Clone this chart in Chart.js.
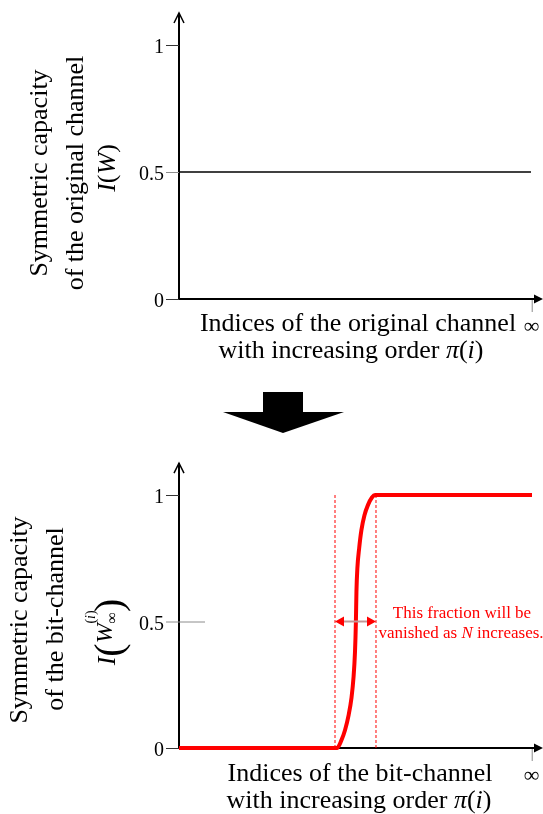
<!DOCTYPE html>
<html>
<head>
<meta charset="utf-8">
<script src="https://cdn.jsdelivr.net/npm/chart.js@4.4.0/dist/chart.umd.min.js"></script>
<style>
html, body { margin: 0; padding: 0; background: #fff; }
#wrap { position: relative; width: 543px; height: 814px; overflow: hidden; }
#c1 { position: absolute; left: 0; top: 0; }
#c2 { position: absolute; left: 0; top: 450px; }
</style>
</head>
<body>
<div id="wrap">
  <canvas id="c1" width="543" height="440"></canvas>
  <canvas id="c2" width="543" height="364"></canvas>
</div>
<script>
// ---- data ----
var yTicks = [0, 0.5, 1];
var yTickLabels = ['0', '0.5', '1'];
var infX = 96.9;               // position of the "∞" index
var yArrowTop = 1.126;         // where the y axis arrow ends
var xArrowEnd = 100;

// original channel: flat capacity 0.5
var origX = [0, 96.7];
var origY = [0.5, 0.5];

// bit-channel after polarization
var bitX = [0, 43.41, 44.6, 45.6, 46.6, 47.4, 47.95, 48.35, 48.6, 48.75, 49.0, 49.5, 50.1, 50.95, 51.9, 53.0, 53.85, 96.98];
var bitY = [0, 0, 0.03, 0.07, 0.13, 0.2, 0.28, 0.38, 0.5, 0.62, 0.71, 0.79, 0.86, 0.92, 0.96, 0.99, 1, 1];

// edges of the unpolarized fraction
var fractionEdges = [42.86, 54.12];

var SERIF = '"Liberation Serif", "Times New Roman", serif';
var RED = '#ff0000';

function pts(xs, ys) {
    return xs.map(function(x, i) { return { x: x, y: ys[i] }; });
}

function runsWidth(ctx, runs) {
    var w = 0;
    runs.forEach(function(r) {
        ctx.font = r.f;
        w += (r.adv !== undefined) ? r.adv : ctx.measureText(r.t).width;
    });
    return w;
}

function drawRuns(ctx, runs, cx, y) {
    var x = cx - runsWidth(ctx, runs) / 2;
    ctx.textAlign = 'left';
    ctx.textBaseline = 'alphabetic';
    runs.forEach(function(r) {
        ctx.font = r.f;
        ctx.fillText(r.t, x, y + (r.dy || 0));
        x += (r.adv !== undefined) ? r.adv : ctx.measureText(r.t).width;
    });
}

// axes with arrows, tick marks and labels
function axesPlugin(o) {
    return {
        id: 'axes',
        beforeDatasetsDraw: function(chart) {
            var ctx = chart.ctx, xs = chart.scales.x, ys = chart.scales.y;
            var x0 = xs.getPixelForValue(0), y0 = ys.getPixelForValue(0);
            var yt = ys.getPixelForValue(yArrowTop), xe = xs.getPixelForValue(xArrowEnd);
            ctx.save();
            // y axis
            ctx.strokeStyle = '#000';
            ctx.lineWidth = 2;
            ctx.beginPath();
            ctx.moveTo(x0, y0);
            ctx.lineTo(x0, yt);
            ctx.stroke();
            ctx.lineWidth = 1.5;
            ctx.beginPath();
            ctx.moveTo(x0 - 5, yt + 10);
            ctx.lineTo(x0, yt);
            ctx.lineTo(x0 + 5, yt + 10);
            ctx.stroke();
            // x axis
            ctx.lineWidth = 2;
            ctx.beginPath();
            ctx.moveTo(x0, y0);
            ctx.lineTo(xe - 6, y0);
            ctx.stroke();
            ctx.fillStyle = '#000';
            ctx.beginPath();
            ctx.moveTo(xe, y0);
            ctx.lineTo(xe - 9, y0 - 4.5);
            ctx.lineTo(xe - 9, y0 + 4.5);
            ctx.closePath();
            ctx.fill();
            // y ticks
            yTicks.forEach(function(v, i) {
                var py = ys.getPixelForValue(v);
                var half = v === 0.5;
                ctx.strokeStyle = half ? '#8c8c8c' : '#333';
                ctx.lineWidth = 1;
                ctx.beginPath();
                ctx.moveTo(x0 - 13, py + 0.5);
                ctx.lineTo((half && o.longHalf) ? x0 + 26 : x0, py + 0.5);
                ctx.stroke();
                ctx.fillStyle = '#000';
                ctx.font = '20px ' + SERIF;
                ctx.textAlign = 'right';
                ctx.textBaseline = 'middle';
                ctx.fillText(yTickLabels[i], x0 - 15, py + 3);
            });
            // infinity tick
            var xi = xs.getPixelForValue(infX);
            ctx.strokeStyle = '#8c8c8c';
            ctx.lineWidth = 1;
            ctx.beginPath();
            ctx.moveTo(xi + 0.5, y0 + 1);
            ctx.lineTo(xi + 0.5, y0 + 13);
            ctx.stroke();
            ctx.fillStyle = '#000';
            ctx.font = '22px ' + SERIF;
            ctx.textAlign = 'center';
            ctx.textBaseline = 'alphabetic';
            ctx.fillText('\u221E', xi, y0 + o.infDy);
            ctx.restore();
        },
        afterDatasetsDraw: function(chart) {
            var ctx = chart.ctx;
            ctx.save();
            ctx.fillStyle = '#000';
            var f = '26px ' + SERIF, fi = 'italic 26px ' + SERIF;
            // x axis title
            drawRuns(ctx, [{ t: o.xTitle, f: f }], o.xCenters[0], o.xTitleY);
            drawRuns(ctx, [{ t: 'with increasing order ', f: f }, { t: '\u03C0', f: fi }, { t: '(', f: f }, { t: 'i', f: fi }, { t: ')', f: f }], o.xCenters[1], o.xTitleY + 27);
            // y axis title (rotated)
            o.yLines.forEach(function(line) {
                ctx.save();
                ctx.translate(line.x, line.cy);
                ctx.rotate(-Math.PI / 2);
                drawRuns(ctx, line.runs, 0, 0);
                ctx.restore();
            });
            if (o.extra) o.extra(chart, ctx);
            ctx.restore();
        }
    };
}

function baseOptions(pad) {
    return {
        responsive: false,
        animation: false,
        layout: { padding: pad },
        plugins: { legend: { display: false }, tooltip: { enabled: false } },
        scales: {
            x: { type: 'linear', display: false, min: 0, max: 100 },
            y: { type: 'linear', display: false, min: 0, max: 1 }
        }
    };
}

var f26 = '26px ' + SERIF, fi26 = 'italic 26px ' + SERIF;

// ---- top chart: original channel ----
var config1 = {
    type: 'line',
    data: {
        datasets: [{
            data: pts(origX, origY),
            borderColor: '#000',
            borderWidth: 1.6,
            pointRadius: 0,
            clip: false
        }]
    },
    options: baseOptions({ left: 179, right: 0, top: 45, bottom: 141 }),
    plugins: [axesPlugin({
        xTitle: 'Indices of the original channel',
        xTitleY: 331,
        xCenters: [358, 351],
        infDy: 34,
        longHalf: false,
        yLines: [
            { x: 47, cy: 173, runs: [{ t: 'Symmetric capacity', f: f26 }] },
            { x: 83, cy: 173, runs: [{ t: 'of the original channel', f: f26 }] },
            { x: 115, cy: 168, runs: [{ t: 'I', f: fi26 }, { t: '(', f: f26 }, { t: 'W', f: fi26 }, { t: ')', f: f26 }] }
        ],
        extra: function(chart, ctx) {
            // big down arrow between the charts
            ctx.fillStyle = '#000';
            ctx.fillRect(263, 392, 40, 21);
            ctx.beginPath();
            ctx.moveTo(223, 412);
            ctx.lineTo(344, 412);
            ctx.lineTo(283, 433);
            ctx.closePath();
            ctx.fill();
        }
    })]
};

// ---- bottom chart: bit-channel ----
var config2 = {
    type: 'line',
    data: {
        datasets: [{
            data: pts(bitX, bitY),
            borderColor: RED,
            borderWidth: 4,
            pointRadius: 0,
            cubicInterpolationMode: 'monotone',
            clip: false
        }, {
            data: [{ x: fractionEdges[0], y: 0 }, { x: fractionEdges[0], y: 1 }],
            borderColor: RED,
            borderWidth: 1,
            borderDash: [3, 2],
            pointRadius: 0
        }, {
            data: [{ x: fractionEdges[1], y: 0 }, { x: fractionEdges[1], y: 1 }],
            borderColor: RED,
            borderWidth: 1,
            borderDash: [3, 2],
            pointRadius: 0
        }]
    },
    options: baseOptions({ left: 179, right: 0, top: 45, bottom: 66 }),
    plugins: [axesPlugin({
        xTitle: 'Indices of the bit-channel',
        xTitleY: 331,
        xCenters: [360, 359],
        infDy: 34,
        longHalf: true,
        yLines: [
            { x: 27, cy: 170, runs: [{ t: 'Symmetric capacity', f: f26 }] },
            { x: 63, cy: 169, runs: [{ t: 'of the bit-channel', f: f26 }] },
            { x: 115, cy: 182, runs: [
                { t: 'I', f: fi26 },
                { t: '(', f: '40px ' + SERIF, dy: 7 },
                { t: 'W', f: 'italic 24px ' + SERIF, dy: -3 },
                { t: '(', f: '14px ' + SERIF, dy: -20, adv: 4.5 },
                { t: 'i', f: 'italic 14px ' + SERIF, dy: -20, adv: 4 },
                { t: ')', f: '14px ' + SERIF, dy: -20, adv: -8.5 },
                { t: '\u221E', f: '16px ' + SERIF, dy: 2 },
                { t: ')', f: '40px ' + SERIF, dy: 7 }
            ] }
        ],
        extra: function(chart, ctx) {
            var xs = chart.scales.x, ys = chart.scales.y;
            var y = ys.getPixelForValue(0.5);
            var xa = xs.getPixelForValue(fractionEdges[0]), xb = xs.getPixelForValue(fractionEdges[1]);
            ctx.strokeStyle = '#c39696';
            ctx.lineWidth = 2;
            ctx.beginPath();
            ctx.moveTo(xa + 8, y);
            ctx.lineTo(xb - 8, y);
            ctx.stroke();
            ctx.fillStyle = RED;
            ctx.beginPath();
            ctx.moveTo(xa, y);
            ctx.lineTo(xa + 9, y - 5);
            ctx.lineTo(xa + 9, y + 5);
            ctx.closePath();
            ctx.fill();
            ctx.beginPath();
            ctx.moveTo(xb, y);
            ctx.lineTo(xb - 9, y - 5);
            ctx.lineTo(xb - 9, y + 5);
            ctx.closePath();
            ctx.fill();
            var f17 = '17px ' + SERIF;
            drawRuns(ctx, [{ t: 'This fraction will be', f: f17 }], 462, 168);
            drawRuns(ctx, [{ t: 'vanished as ', f: f17 }, { t: 'N', f: 'italic 17px ' + SERIF }, { t: ' increases.', f: f17 }], 461, 188);
        }
    })]
};

window.onload = function() {
    new Chart(document.getElementById('c1').getContext('2d'), config1);
    new Chart(document.getElementById('c2').getContext('2d'), config2);
};
</script>
</body>
</html>
